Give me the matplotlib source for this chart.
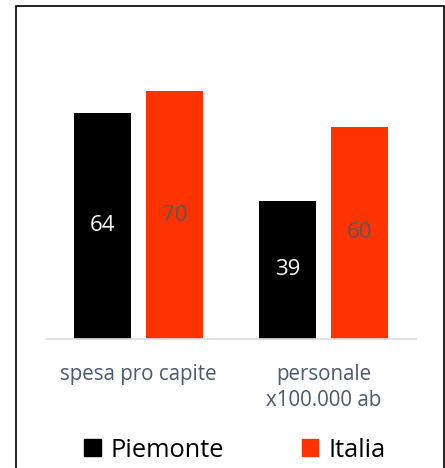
import matplotlib
matplotlib.use("Agg")
import matplotlib.pyplot as plt
from matplotlib.patches import Rectangle, Patch
import numpy as np

categories = ["spesa pro capite", "personale\nx100.000 ab"]
piemonte = [64, 39]
italia = [70, 60]
series_names = ["Piemonte", "Italia"]

plt.rcParams['font.family'] = ['Open Sans', 'DejaVu Sans']

W, H = 445, 468
fig = plt.figure(figsize=(W/100, H/100), dpi=100)
ax = fig.add_axes([46/W, (H-338.7)/H, 370/W, (338.7-56)/H])

x = np.arange(len(categories))
bw = 0.31
off = 0.195
c_pie = '#000000'
c_ita = '#FF3300'
b1 = ax.bar(x - off, piemonte, bw, color=c_pie)
b2 = ax.bar(x + off, italia, bw, color=c_ita)

for rect, v in zip(b1, piemonte):
    ax.text(rect.get_x() + rect.get_width()/2, v/2, str(v), ha='center', va='center',
            color='white', fontsize=16)
for rect, v in zip(b2, italia):
    ax.text(rect.get_x() + rect.get_width()/2, v/2, str(v), ha='center', va='center',
            color='#595959', fontsize=16)

ax.set_xlim(-0.5, 1.5)
ax.set_ylim(0, 80)
ax.set_yticks([])
ax.set_xticks(x)
ax.set_xticklabels(categories, fontsize=14.8, color='#4A5A70', linespacing=1.35)
ax.tick_params(axis='x', length=0, pad=18)
for s in ['top', 'right', 'left']:
    ax.spines[s].set_visible(False)
ax.spines['bottom'].set_color('#D9DDE3')
ax.spines['bottom'].set_linewidth(1.2)

handles = [Patch(color=c_pie), Patch(color=c_ita)]
fig.legend(handles, series_names, loc='center', bbox_to_anchor=(0.528, 0.038), ncol=2,
           frameon=False, fontsize=18.3, handlelength=0.65, handleheight=0.65,
           handletextpad=0.4, columnspacing=3.05)

fig.patches.append(Rectangle((16/W, -0.05), 428/W, 1.05 - 6.5/H, transform=fig.transFigure,
                             fill=False, edgecolor='black', linewidth=1.2))

fig.savefig('out.png', dpi=100)
